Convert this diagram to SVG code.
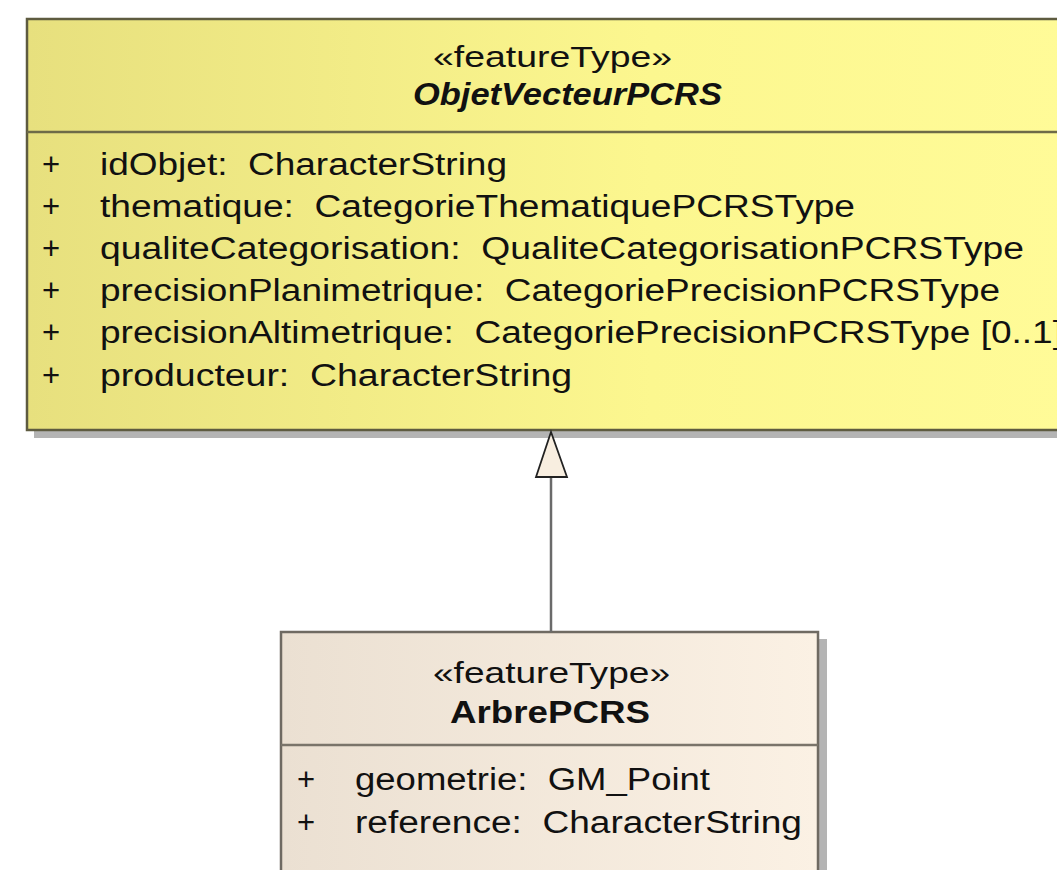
<svg xmlns="http://www.w3.org/2000/svg" width="1057" height="870" viewBox="0 0 1057 870">
<defs>
<linearGradient id="gYellow" x1="0" y1="0" x2="1" y2="0">
<stop offset="0" stop-color="#e7e07e"/>
<stop offset="0.6" stop-color="#fcf78f"/>
<stop offset="1" stop-color="#fffb98"/>
</linearGradient>
<linearGradient id="gBeige" x1="0" y1="0" x2="1" y2="0">
<stop offset="0" stop-color="#ebe0d2"/>
<stop offset="1" stop-color="#fbf1e4"/>
</linearGradient>
<style>
text{font-family:"Liberation Sans",Arial,sans-serif;fill:#111;white-space:pre;}
.st{font-size:30px;text-anchor:start;}
.nm{font-size:32px;font-weight:bold;}
.at{font-size:31px;}
.shadow{fill:#b4b4b4;}
.sep{stroke-width:2.5;}
</style>
</defs>
<g id="ObjetVecteurPCRS">
<rect class="shadow" x="34" y="26" width="1040" height="412"/>
<rect x="27" y="19" width="1040" height="411" fill="url(#gYellow)" stroke="#5e5b40" stroke-width="2.5"/>
<line class="sep" x1="27" y1="132" x2="1057" y2="132" stroke="#6e6b48"/>
<text class="st" x="433" y="67" textLength="239" lengthAdjust="spacingAndGlyphs">«featureType»</text>
<text class="nm" x="413" y="105" font-style="italic" textLength="309" lengthAdjust="spacingAndGlyphs">ObjetVecteurPCRS</text>
<text class="at" x="42" y="175">+</text>
<text class="at" x="100" y="175" textLength="407" lengthAdjust="spacingAndGlyphs">idObjet:  CharacterString</text>
<text class="at" x="42" y="217">+</text>
<text class="at" x="100" y="217" textLength="755" lengthAdjust="spacingAndGlyphs">thematique:  CategorieThematiquePCRSType</text>
<text class="at" x="42" y="259">+</text>
<text class="at" x="100" y="259" textLength="924" lengthAdjust="spacingAndGlyphs">qualiteCategorisation:  QualiteCategorisationPCRSType</text>
<text class="at" x="42" y="301">+</text>
<text class="at" x="100" y="301" textLength="900" lengthAdjust="spacingAndGlyphs">precisionPlanimetrique:  CategoriePrecisionPCRSType</text>
<text class="at" x="42" y="343">+</text>
<text class="at" x="100" y="343" textLength="963" lengthAdjust="spacingAndGlyphs">precisionAltimetrique:  CategoriePrecisionPCRSType [0..1]</text>
<text class="at" x="42" y="386">+</text>
<text class="at" x="100" y="386" textLength="472" lengthAdjust="spacingAndGlyphs">producteur:  CharacterString</text>
</g>
<g id="ArbrePCRS">
<rect class="shadow" x="288" y="639" width="539" height="260"/>
<rect x="281" y="632" width="537" height="260" fill="url(#gBeige)" stroke="#6f6a62" stroke-width="2.5"/>
<line class="sep" x1="281" y1="745" x2="818" y2="745" stroke="#7a746a"/>
<text class="st" x="433" y="683" textLength="237" lengthAdjust="spacingAndGlyphs">«featureType»</text>
<text class="nm" x="450" y="723" textLength="200" lengthAdjust="spacingAndGlyphs">ArbrePCRS</text>
<text class="at" x="297" y="790">+</text>
<text class="at" x="355" y="790" textLength="355" lengthAdjust="spacingAndGlyphs">geometrie:  GM_Point</text>
<text class="at" x="297" y="833">+</text>
<text class="at" x="355" y="833" textLength="447" lengthAdjust="spacingAndGlyphs">reference:  CharacterString</text>
</g>
<g id="connectors">
<line x1="551" y1="477" x2="551" y2="632" stroke="#6a6a6a" stroke-width="2.5"/>
<polygon points="551,432 536,477 567,477" fill="#f8eee0" stroke="#222" stroke-width="1.8" stroke-linejoin="miter"/>
</g>
</svg>
